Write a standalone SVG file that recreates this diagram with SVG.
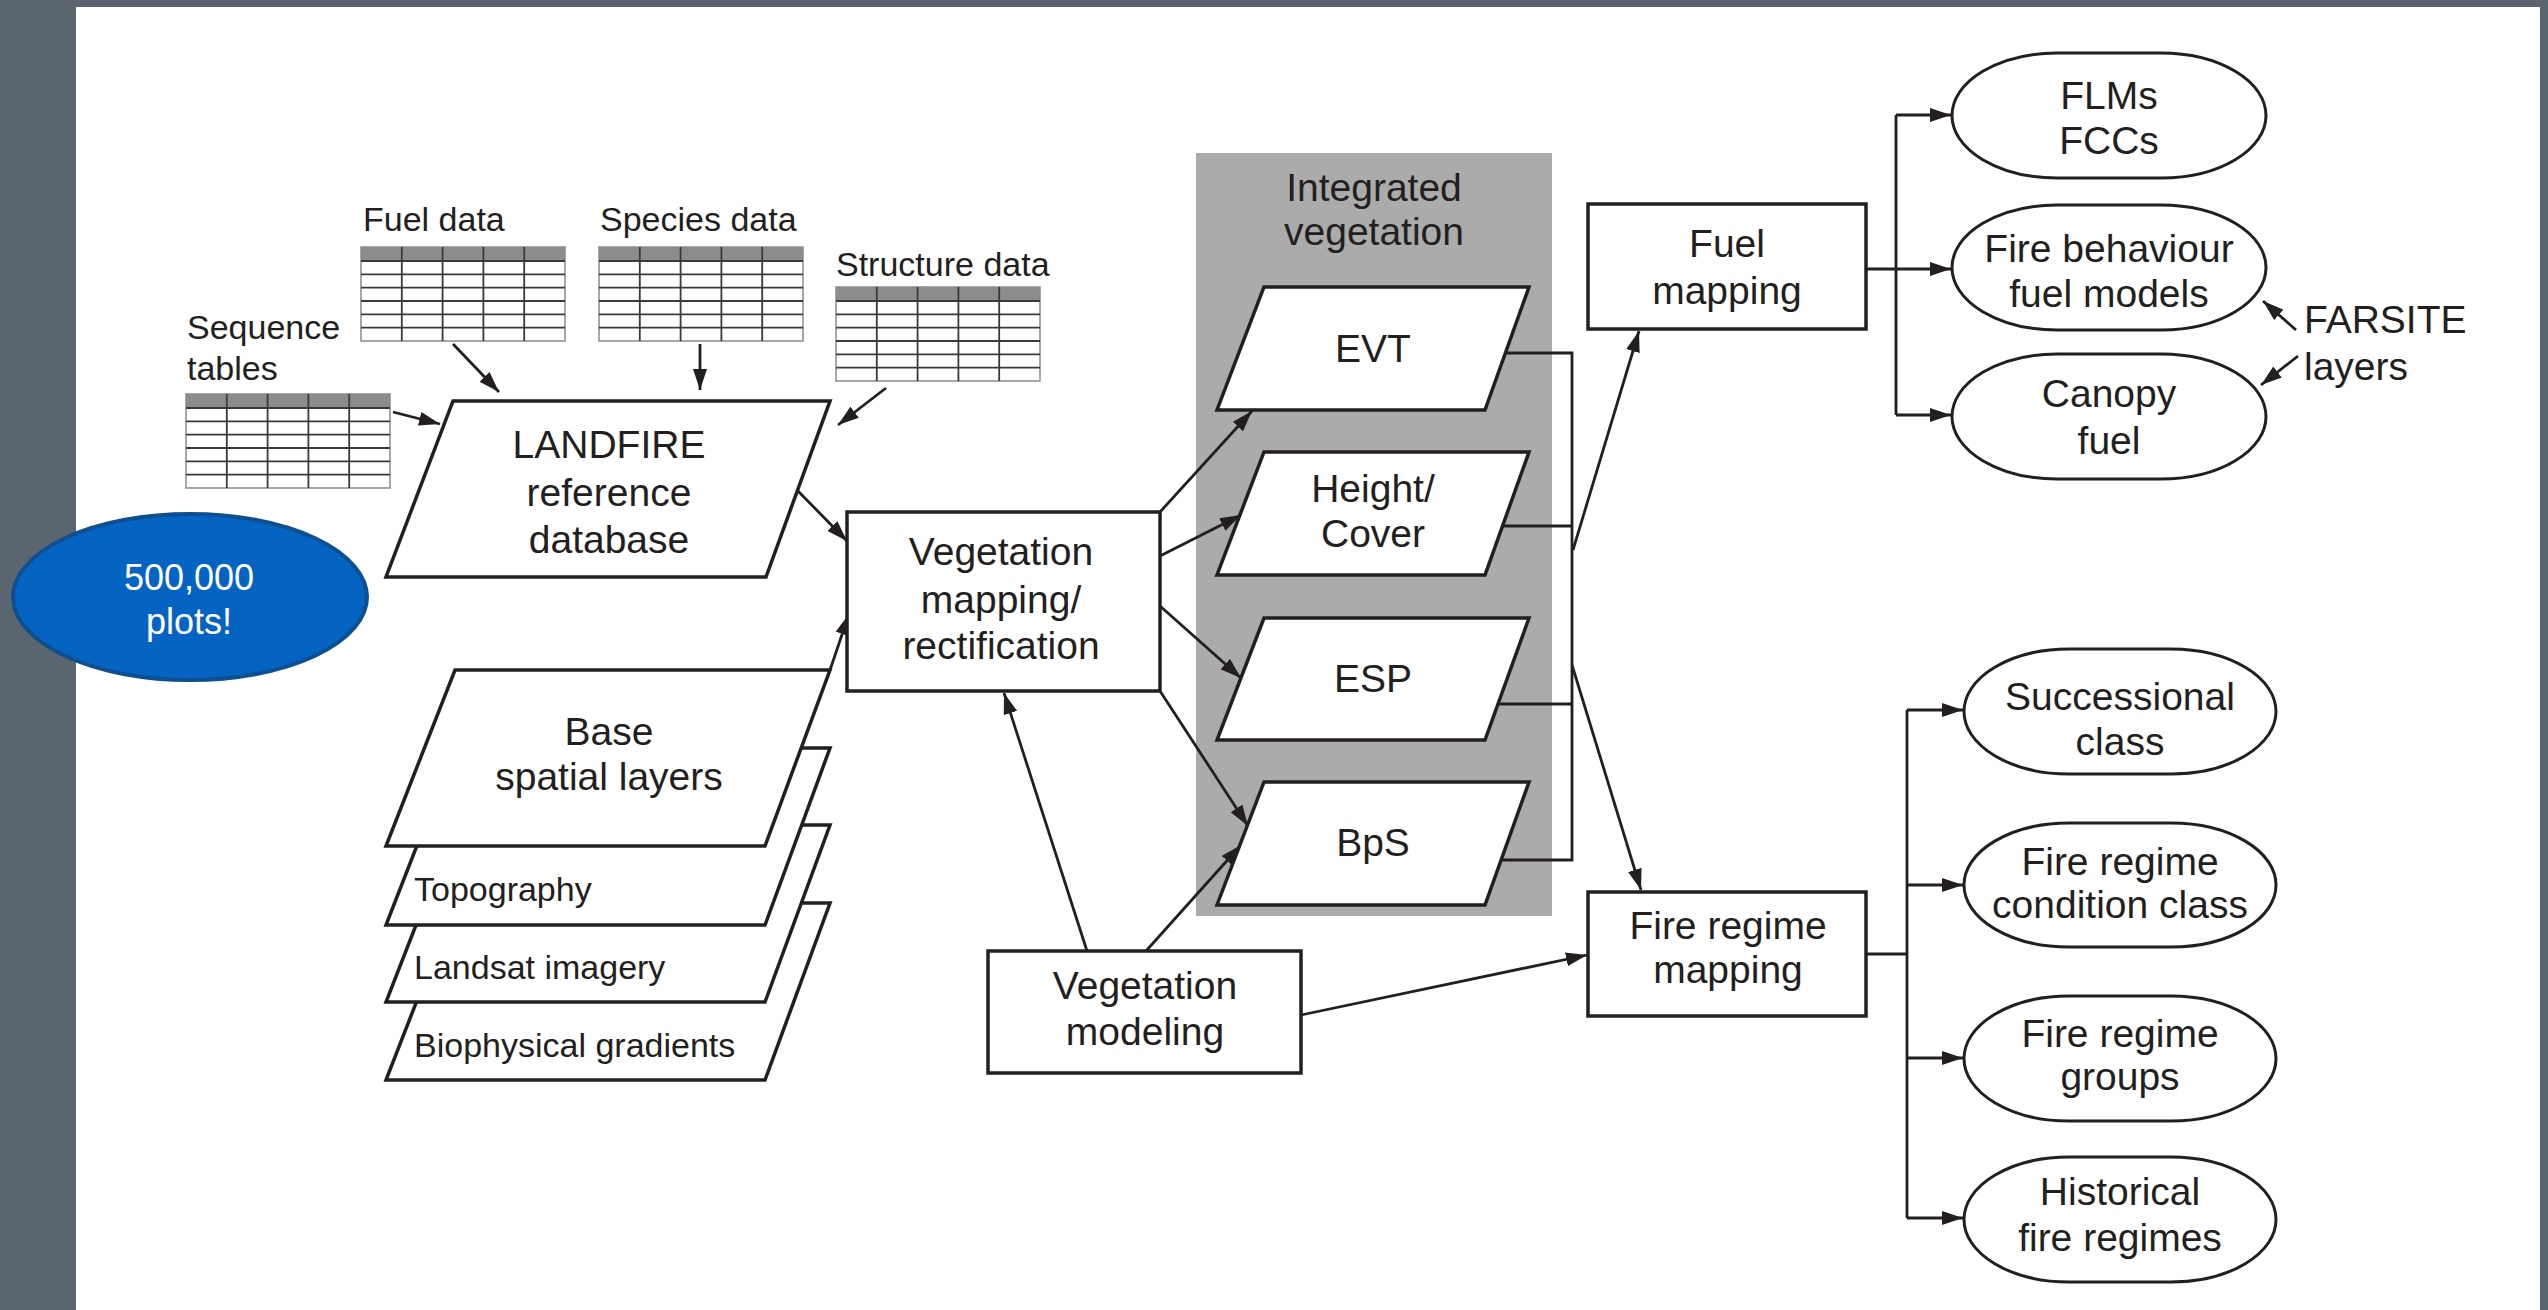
<svg xmlns="http://www.w3.org/2000/svg" width="2548" height="1310" viewBox="0 0 2548 1310">
<style>
text{font-family:"Liberation Sans",Arial,sans-serif;fill:#231f20}
.c{font-size:39px;text-anchor:middle}
.s{font-size:34px}
.box{fill:#fff;stroke:#231f20;stroke-width:3.5}
.pill{fill:#fff;stroke:#231f20;stroke-width:3}
.ln{fill:none;stroke:#231f20;stroke-width:2.8}
.arr{fill:none;stroke:#231f20;stroke-width:2.8;marker-end:url(#ah)}
.grid{stroke:#3a3a3a;stroke-width:1.8}
</style>
<defs>
<marker id="ah" markerUnits="userSpaceOnUse" markerWidth="22" markerHeight="14" refX="21" refY="7" orient="auto"><path d="M0,0 L21,7 L0,14 Z" fill="#231f20"/></marker>
<g id="tbl">
<rect x="0" y="0" width="204" height="94" fill="#fff" stroke="#8a8a8a" stroke-width="1.5"/>
<rect x="0" y="0" width="204" height="14" fill="#8c8c8c"/>
<path class="grid" d="M0,14H204M0,27.3H204M0,40.6H204M0,54H204M0,67.3H204M0,80.6H204M40.8,0V94M81.6,0V94M122.4,0V94M163.2,0V94"/>
</g>
</defs>
<rect x="0" y="0" width="2548" height="1310" fill="#5b6570"/>
<rect x="76" y="7" width="2464" height="1303" fill="#fff"/>

<g id="panel-integrated-vegetation">
<rect x="1196" y="153" width="356" height="763" fill="#ababab"/>
<text class="c" x="1374" y="201">Integrated</text>
<text class="c" x="1374" y="245">vegetation</text>
</g>

<g id="connectors">
<path class="arr" d="M393,412 L440,424"/>
<path class="arr" d="M453,344 L499,392"/>
<path class="arr" d="M700,344 L700,390"/>
<path class="arr" d="M886,388 L838,425"/>
<path class="arr" d="M797,490 L847,541"/>
<path class="arr" d="M830,670 L849,614"/>
<path class="arr" d="M1160,512 L1252,411"/>
<path class="arr" d="M1160,556 L1241,515"/>
<path class="arr" d="M1160,606 L1241,678"/>
<path class="arr" d="M1160,691 L1248,826"/>
<path class="arr" d="M1087,951 L1004,693"/>
<path class="arr" d="M1146,951 L1241,845"/>
<path class="arr" d="M1301,1015 L1587,955"/>
<path class="ln" d="M1505,353 H1572 V860 H1501 M1503,526 H1572 M1498,704 H1572"/>
<path class="arr" d="M1573,550 L1639,331"/>
<path class="arr" d="M1572,665 L1641,890"/>
<path class="ln" d="M1866,269 H1896 M1896,115 V415"/>
<path class="arr" d="M1896,115 H1951"/>
<path class="arr" d="M1896,269 H1951"/>
<path class="arr" d="M1896,415 H1951"/>
<path class="ln" d="M1867,954 H1907 M1907,710 V1218"/>
<path class="arr" d="M1907,710 H1963"/>
<path class="arr" d="M1907,885 H1963"/>
<path class="arr" d="M1907,1058 H1963"/>
<path class="arr" d="M1907,1218 H1963"/>
<path class="arr" d="M2296,330 L2263,301"/>
<path class="arr" d="M2298,356 L2261,385"/>
</g>

<g id="fuel-data">
<text class="s" x="363" y="231">Fuel data</text>
<use href="#tbl" x="361" y="247"/>
</g>
<g id="species-data">
<text class="s" x="600" y="231">Species data</text>
<use href="#tbl" x="599" y="247"/>
</g>
<g id="sequence-tables">
<text class="s" x="187" y="339">Sequence</text>
<text class="s" x="187" y="380">tables</text>
<use href="#tbl" x="186" y="394"/>
</g>
<g id="structure-data">
<text class="s" x="836" y="276">Structure data</text>
<use href="#tbl" x="836" y="287"/>
</g>

<g id="landfire-db">
<path class="box" d="M453,401 L830,401 L766,577 L386,577 Z"/>
<text class="c" x="609" y="458">LANDFIRE</text>
<text class="c" x="609" y="506">reference</text>
<text class="c" x="609" y="553">database</text>
</g>

<g id="plots-callout">
<ellipse cx="190" cy="597" rx="177" ry="83" fill="#0563c1" stroke="#0d4f91" stroke-width="4"/>
<text x="189" y="590" font-size="36" text-anchor="middle" style="fill:#fff">500,000</text>
<text x="189" y="634" font-size="36" text-anchor="middle" style="fill:#fff">plots!</text>
</g>

<g id="base-spatial-layers">
<path class="box" d="M455,903 L830,903 L765,1080 L386,1080 Z"/>
<text class="s" x="414" y="1057">Biophysical gradients</text>
<path class="box" d="M455,825 L830,825 L765,1002 L386,1002 Z"/>
<text class="s" x="414" y="979">Landsat imagery</text>
<path class="box" d="M455,748 L830,748 L765,925 L386,925 Z"/>
<text class="s" x="414" y="901">Topography</text>
<path class="box" d="M455,670 L830,670 L765,846 L386,846 Z"/>
<text class="c" x="609" y="745">Base</text>
<text class="c" x="609" y="790">spatial layers</text>
</g>

<g id="vegetation-mapping">
<rect class="box" x="847" y="512" width="313" height="179"/>
<text class="c" x="1001" y="565">Vegetation</text>
<text class="c" x="1001" y="613">mapping/</text>
<text class="c" x="1001" y="659">rectification</text>
</g>

<g id="vegetation-modeling">
<rect class="box" x="988" y="951" width="313" height="122"/>
<text class="c" x="1145" y="999">Vegetation</text>
<text class="c" x="1145" y="1045">modeling</text>
</g>

<g id="evt">
<path class="box" d="M1264,287 L1529,287 L1485,410 L1217,410 Z"/>
<text class="c" x="1373" y="362">EVT</text>
</g>
<g id="height-cover">
<path class="box" d="M1264,452 L1529,452 L1485,575 L1217,575 Z"/>
<text class="c" x="1373" y="502">Height/</text>
<text class="c" x="1373" y="547">Cover</text>
</g>
<g id="esp">
<path class="box" d="M1264,618 L1529,618 L1485,740 L1217,740 Z"/>
<text class="c" x="1373" y="692">ESP</text>
</g>
<g id="bps">
<path class="box" d="M1264,782 L1529,782 L1485,905 L1217,905 Z"/>
<text class="c" x="1373" y="856">BpS</text>
</g>

<g id="fuel-mapping">
<rect class="box" x="1588" y="204" width="278" height="125"/>
<text class="c" x="1727" y="257">Fuel</text>
<text class="c" x="1727" y="304">mapping</text>
</g>
<g id="fire-regime-mapping">
<rect class="box" x="1588" y="892" width="278" height="124"/>
<text class="c" x="1728" y="939">Fire regime</text>
<text class="c" x="1728" y="983">mapping</text>
</g>

<g id="flms-fccs">
<rect class="pill" x="1952" y="53" width="314" height="125" rx="105" ry="62.5"/>
<text class="c" x="2109" y="109">FLMs</text>
<text class="c" x="2109" y="154">FCCs</text>
</g>
<g id="fire-behaviour-fuel-models">
<rect class="pill" x="1952" y="205" width="314" height="125" rx="105" ry="62.5"/>
<text class="c" x="2109" y="262">Fire behaviour</text>
<text class="c" x="2109" y="307">fuel models</text>
</g>
<g id="canopy-fuel">
<rect class="pill" x="1952" y="354" width="314" height="125" rx="105" ry="62.5"/>
<text class="c" x="2109" y="407">Canopy</text>
<text class="c" x="2109" y="454">fuel</text>
</g>
<g id="farsite-layers">
<text x="2304" y="333" font-size="39">FARSITE</text>
<text x="2304" y="380" font-size="39">layers</text>
</g>

<g id="successional-class">
<rect class="pill" x="1964" y="649" width="312" height="125" rx="105" ry="62.5"/>
<text class="c" x="2120" y="710">Successional</text>
<text class="c" x="2120" y="755">class</text>
</g>
<g id="fire-regime-condition-class">
<rect class="pill" x="1964" y="823" width="312" height="124" rx="105" ry="62"/>
<text class="c" x="2120" y="875">Fire regime</text>
<text class="c" x="2120" y="918">condition class</text>
</g>
<g id="fire-regime-groups">
<rect class="pill" x="1964" y="996" width="312" height="125" rx="105" ry="62.5"/>
<text class="c" x="2120" y="1047">Fire regime</text>
<text class="c" x="2120" y="1090">groups</text>
</g>
<g id="historical-fire-regimes">
<rect class="pill" x="1964" y="1157" width="312" height="125" rx="105" ry="62.5"/>
<text class="c" x="2120" y="1205">Historical</text>
<text class="c" x="2120" y="1251">fire regimes</text>
</g>
</svg>
